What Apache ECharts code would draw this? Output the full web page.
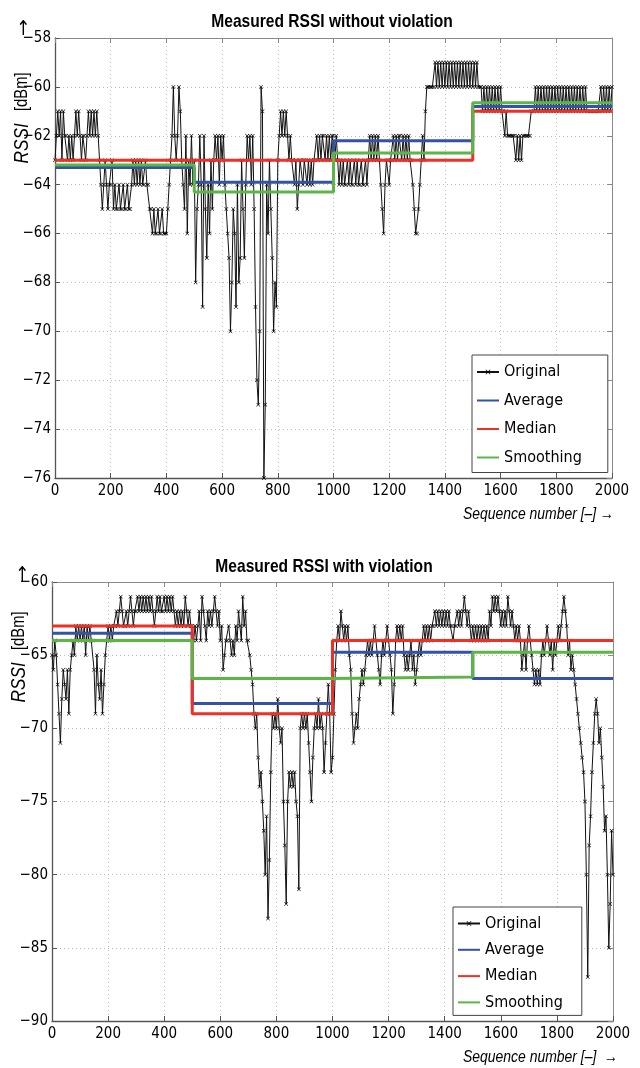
<!DOCTYPE html>
<html><head><meta charset="utf-8">
<script src="https://cdn.jsdelivr.net/npm/echarts@6/dist/echarts.min.js"></script>
<style>html,body{margin:0;padding:0;background:#fff}#c{width:640px;height:1068px}</style>
</head><body><div id="c"></div>
<script>
// ---------------- DATA ----------------
const SEQ_STEP = 5;                       // original samples read every 5 sequence numbers (0..2000)
const segmentBounds = [0, 500, 1000, 1500, 2000];

// Top chart: "Measured RSSI without violation"
const topOriginal = [
-63,-62,-61,-62,-61,-63,-61,-62,-62,-63,-62,-63,-62,-63,-62,-61,-62,-61,-62,-63,
-62,-62,-63,-62,-61,-62,-61,-62,-61,-62,-61,-62,-63,-64,-65,-64,-63,-64,-65,-64,
-64,-63,-65,-64,-65,-65,-64,-65,-65,-64,-65,-65,-64,-65,-65,-64,-63,-64,-63,-64,
-63,-64,-63,-64,-64,-63,-64,-64,-65,-65,-66,-65,-66,-66,-65,-66,-66,-65,-66,-66,
-66,-65,-64,-63,-62,-60,-62,-63,-62,-60,-61,-63,-64,-65,-62,-66,-63,-64,-62,-64,
-63,-68,-65,-64,-62,-64,-69,-62,-65,-67,-64,-66,-63,-65,-63,-62,-63,-62,-64,-62,
-63,-62,-64,-65,-66,-67,-70,-68,-65,-66,-69,-64,-68,-67,-63,-65,-67,-64,-62,-63,
-62,-64,-62,-65,-69,-72,-73,-70,-60,-61,-76,-73,-64,-66,-63,-65,-67,-70,-68,-69,
-63,-62,-61,-62,-61,-62,-61,-62,-63,-62,-63,-63,-64,-63,-65,-64,-63,-63,-64,-63,
-63,-64,-63,-64,-63,-64,-63,-63,-62,-63,-62,-63,-62,-62,-63,-62,-63,-62,-63,-62,
-62,-63,-62,-63,-64,-63,-64,-63,-64,-64,-63,-64,-63,-64,-64,-63,-64,-63,-64,-64,
-63,-64,-64,-63,-64,-63,-62,-63,-62,-63,-62,-63,-62,-63,-64,-65,-66,-64,-63,-63,
-64,-63,-63,-62,-63,-62,-63,-62,-62,-63,-62,-63,-62,-63,-62,-63,-63,-64,-65,-66,
-66,-65,-64,-63,-62,-63,-61,-60,-60,-60,-60,-60,-60,-59,-60,-59,-60,-59,-60,-59,
-60,-59,-60,-59,-60,-59,-60,-59,-60,-59,-60,-59,-60,-59,-60,-59,-60,-59,-60,-59,
-60,-59,-60,-59,-60,-60,-60,-61,-60,-61,-60,-61,-60,-61,-60,-61,-60,-61,-60,-61,
-60,-61,-61,-62,-61,-62,-62,-62,-62,-62,-62,-63,-62,-63,-62,-63,-62,-62,-62,-62,
-62,-62,-61,-61,-61,-60,-61,-60,-61,-60,-61,-60,-61,-60,-61,-60,-61,-60,-61,-60,
-61,-60,-61,-60,-61,-60,-61,-60,-61,-60,-61,-60,-61,-60,-61,-60,-61,-60,-61,-60,
-61,-60,-61,-61,-61,-61,-61,-61,-61,-61,-61,-61,-60,-61,-60,-61,-60,-61,-60,-61,
-60];
const topAverage   = [-63.3, -63.9, -62.2, -60.8];
const topMedian    = [-63.0, -63.0, -63.0, -61.0];
const topSmoothing = [-63.2, -64.3, -62.7, -60.65];

// Bottom chart: "Measured RSSI with violation"
const bottomOriginal = [
-65,-66,-64,-65,-67,-69,-71,-68,-66,-67,-68,-66,-69,-66,-65,-64,-65,-63,-64,-63,
-64,-63,-64,-63,-65,-63,-64,-63,-64,-64,-66,-69,-65,-67,-68,-66,-69,-67,-65,-64,
-63,-64,-63,-64,-63,-63,-62,-63,-62,-61,-62,-63,-63,-62,-63,-62,-61,-62,-63,-62,
-62,-61,-62,-61,-62,-61,-62,-61,-62,-61,-62,-61,-62,-63,-62,-61,-62,-61,-62,-62,
-61,-62,-61,-62,-61,-62,-61,-62,-63,-62,-63,-62,-63,-62,-63,-61,-62,-63,-62,-63,
-63,-64,-63,-64,-63,-62,-64,-61,-62,-63,-64,-62,-63,-62,-63,-62,-61,-62,-63,-62,
-64,-63,-66,-65,-64,-64,-63,-64,-65,-64,-65,-63,-64,-62,-63,-64,-61,-63,-62,-64,
-64,-65,-66,-67,-69,-70,-69,-72,-74,-73,-75,-77,-80,-76,-83,-79,-73,-69,-70,-69,
-70,-68,-70,-71,-70,-75,-78,-82,-75,-73,-74,-73,-74,-73,-75,-76,-81,-70,-69,-70,
-69,-70,-69,-71,-73,-75,-72,-70,-69,-70,-68,-70,-69,-70,-73,-71,-69,-67,-69,-73,
-72,-69,-66,-64,-63,-64,-62,-63,-64,-63,-64,-63,-65,-66,-69,-71,-70,-69,-70,-68,
-67,-66,-67,-66,-65,-64,-65,-64,-65,-64,-63,-64,-65,-66,-67,-65,-64,-65,-64,-63,
-64,-65,-66,-69,-67,-64,-63,-64,-63,-64,-63,-65,-66,-65,-66,-65,-64,-66,-65,-67,
-66,-65,-64,-65,-64,-63,-64,-63,-64,-63,-64,-63,-63,-62,-63,-62,-63,-62,-63,-62,
-63,-62,-63,-62,-63,-63,-64,-63,-63,-62,-63,-62,-63,-62,-61,-62,-63,-62,-63,-64,
-63,-64,-63,-64,-63,-64,-63,-64,-63,-64,-63,-64,-62,-63,-61,-62,-61,-62,-61,-62,
-63,-62,-63,-62,-63,-61,-62,-63,-62,-63,-64,-63,-64,-63,-64,-66,-65,-64,-66,-64,
-63,-64,-65,-66,-67,-66,-67,-66,-67,-65,-64,-65,-64,-63,-64,-65,-64,-66,-64,-65,
-64,-63,-64,-63,-62,-61,-62,-63,-65,-64,-66,-65,-66,-67,-68,-69,-70,-71,-72,-73,
-75,-80,-87,-78,-76,-73,-71,-69,-68,-69,-71,-70,-72,-74,-77,-76,-80,-85,-82,-77,
-80];
const bottomAverage   = [-63.5, -68.3, -64.8, -66.6];
const bottomMedian    = [-63.0, -69.0, -64.0, -64.0];
const bottomSmoothing = [-64.0, -66.6, -66.5, -64.8];

const topY = {min: -76, max: -58, interval: 2};
const bottomY = {min: -90, max: -60, interval: 5};
const xRange = {min: 0, max: 2000, interval: 200};
const titles = ['Measured RSSI without violation', 'Measured RSSI with violation'];
const seriesNames = ['Original', 'Average', 'Median', 'Smoothing'];

// ---------------- STYLE ----------------
const FONT = "'DejaVu Sans Condensed','Liberation Sans',sans-serif";
const ARIAL = "'Liberation Sans',Arial,sans-serif";
const COLORS = {Average: '#3452a6', Median: '#ee3127', Smoothing: '#5cb646'};
const XMARK = 'path://M0,1L1,0L5,4L9,0L10,1L6,5L10,9L9,10L5,6L1,10L0,9L4,5Z';

function orig(values){ return values.map((v, i) => [i * SEQ_STEP, v]); }
function steps(levels){
  const d = [];
  levels.forEach((v, i) => { d.push([segmentBounds[i], v]); d.push([segmentBounds[i + 1], v]); });
  return d;
}
const minus = v => String(v).replace('-', '\u2212');

function axesFor(gridIndex, yCfg){
  const xs = [
    {type:'value', gridIndex, position:'bottom', ...xRange,
     axisLine:{onZero:false, lineStyle:{color:'#555', width:1.3}},
     axisTick:{inside:true, length:5, lineStyle:{color:'#555'}},
     axisLabel:{color:'#000', fontFamily:FONT, fontSize:15, margin:6, formatter:v => String(v)},
     splitLine:{show:true, lineStyle:{type:[1,3], color:'#bdbdbd', width:1}}},
    {type:'value', gridIndex, position:'top', ...xRange,
     axisLine:{onZero:false, lineStyle:{color:'#8a8a8a', width:1}},
     axisTick:{inside:true, length:5, lineStyle:{color:'#8a8a8a'}},
     axisLabel:{show:false}, splitLine:{show:false}}
  ];
  const ys = [
    {type:'value', gridIndex, position:'left', ...yCfg,
     axisLine:{show:true, onZero:false, lineStyle:{color:'#555', width:1.3}},
     axisTick:{show:true, inside:true, length:5, lineStyle:{color:'#555'}},
     axisLabel:{color:'#000', fontFamily:FONT, fontSize:15, margin:4, formatter:minus},
     splitLine:{show:true, lineStyle:{type:[1,3], color:'#bdbdbd', width:1}}},
    {type:'value', gridIndex, position:'right', ...yCfg,
     axisLine:{show:true, onZero:false, lineStyle:{color:'#8a8a8a', width:1}},
     axisTick:{show:true, inside:true, length:5, lineStyle:{color:'#8a8a8a'}},
     axisLabel:{show:false}, splitLine:{show:false}}
  ];
  return {xs, ys};
}
const a0 = axesFor(0, topY), a1 = axesFor(1, bottomY);

function seriesFor(axisIdx, original, avg, med, smo){
  const base = {type:'line', xAxisIndex:axisIdx, yAxisIndex:axisIdx, animation:false, silent:true};
  return [
    {...base, name:'Original', data:orig(original), symbol:XMARK, symbolSize:4, showAllSymbol:true,
     lineStyle:{color:'#111', width:1}, itemStyle:{color:'#000'}, z:2},
    {...base, name:'Average', data:steps(avg), symbol:'none', lineStyle:{color:COLORS.Average, width:3}, itemStyle:{color:COLORS.Average}, z:3},
    {...base, name:'Median', data:steps(med), symbol:'none', lineStyle:{color:COLORS.Median, width:3}, itemStyle:{color:COLORS.Median}, z:4},
    {...base, name:'Smoothing', data:steps(smo), symbol:'none', lineStyle:{color:COLORS.Smoothing, width:3}, itemStyle:{color:COLORS.Smoothing}, z:5}
  ];
}

const hiddenMark = {opacity:0, color:'transparent', borderColor:'transparent', borderWidth:0};
const legendData = seriesNames.map(n => n === 'Original' ? {name:n} : {name:n, itemStyle:hiddenMark});
const legendBase = {orient:'vertical', data:legendData, selectedMode:false, itemWidth:22, itemHeight:6,
  itemTextGap:3, borderColor:'#444', borderWidth:1, backgroundColor:'#fff', borderRadius:0,
  textStyle:{color:'#000', fontFamily:FONT, fontSize:16, lineHeight:18}};

const yName = (x, yc) => ({type:'text', x, y:yc, rotation:Math.PI/2, scaleX:0.82,
  style:{text:'{i|RSSI}{n|   [dBm]}', fill:'#000', align:'center', verticalAlign:'middle',
    font:"17px " + ARIAL,
    rich:{i:{fontStyle:'italic', fontFamily:ARIAL, fontSize:21, fill:'#000'},
          n:{fontFamily:ARIAL, fontSize:18, fill:'#000'}}}});
const upArrow = (x, y) => ({type:'text', x, y, scaleY:1.2, style:{text:'\u2191', fill:'#000', align:'center', verticalAlign:'middle', font:"17px 'DejaVu Sans',sans-serif"}});
const xName = (x, y, t) => ({type:'text', x, y, scaleX:0.82, style:{text:t, fill:'#000', align:'right', verticalAlign:'middle', font:"italic 17px " + ARIAL}});
const title = (x, y, t) => ({type:'text', x, y, scaleX:0.82, style:{text:t, fill:'#000', align:'center', verticalAlign:'middle', font:"bold 19px " + ARIAL}});

const option = {
  animation:false,
  backgroundColor:'#fff',
  grid:[
    {left:55, top:38, width:557, height:440, containLabel:false},
    {left:52, top:582, width:561, height:439, containLabel:false}
  ],
  xAxis:[...a0.xs, ...a1.xs],
  yAxis:[...a0.ys, ...a1.ys],
  legend:[
    {...legendBase, left:472, top:355, padding:[8, 26, 6, 4], itemGap:10.5},
    {...legendBase, left:453, top:907, padding:[7.5, 19, 4, 4], itemGap:8.3}
  ],
  series:[
    ...seriesFor(0, topOriginal, topAverage, topMedian, topSmoothing),
    ...seriesFor(2, bottomOriginal, bottomAverage, bottomMedian, bottomSmoothing)
  ],
  graphic:[
    title(332, 22, titles[0]),
    title(324, 567, titles[1]),
    yName(22, 118), upArrow(23, 30),
    yName(19, 657), upArrow(22, 576),
    xName(614, 514, 'Sequence number [\u2013] \u2192'),
    xName(618, 1057, 'Sequence number [\u2013]  \u2192')
  ]
};
const chart = echarts.init(document.getElementById('c'), null, {renderer:'canvas'});
chart.setOption(option);
</script>
</body></html>
